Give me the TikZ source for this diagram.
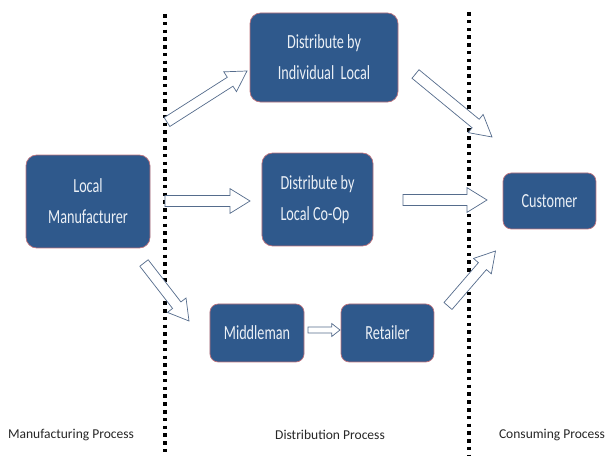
\documentclass[tikz,border=0pt]{standalone}
\usepackage{fontspec}
\setmainfont{Carlito}
\newfontfamily\boxfont[FakeStretch=0.71]{Carlito}
\usetikzlibrary{calc}

\definecolor{boxblue}{RGB}{47,89,140}
\definecolor{boxedge}{RGB}{190,115,125}
\definecolor{arrowedge}{RGB}{85,108,140}
\definecolor{boxtext}{RGB}{235,240,246}

\tikzset{
  procbox/.style={draw=boxedge, line width=0.6pt, fill=boxblue, rounded corners=9pt,
    text=boxtext, font=\boxfont\fontsize{17}{26.5}\selectfont, align=center, inner sep=0pt},
  sepline/.style={line width=3pt, dash pattern=on 3pt off 3.6pt},
  barrowstyle/.style={draw=arrowedge, fill=white, line width=0.6pt, line join=miter},
  phase/.style={font=\fontsize{11.5}{14}\selectfont, text=black!85}
}

% tail, tip, shaft half width, head half width, head length
\newcommand\blockarrow[5]{%
  \coordinate (hb) at ($(#2)!#5!(#1)$);
  \draw[barrowstyle] ($(#1)!#3!90:(#2)$) -- ($(hb)!#3!-90:(#1)$) -- ($(hb)!#4!-90:(#1)$)
    -- (#2) -- ($(hb)!#4!90:(#1)$) -- ($(hb)!#3!90:(#1)$) -- ($(#1)!#3!-90:(#2)$) -- cycle;
}

\begin{document}
\begin{tikzpicture}[x=0.85pt, y=-0.85pt]
\useasboundingbox (0,0) rectangle (609,456);

% separators
\coordinate (s1t) at (165,14);
\coordinate (s1b) at (165,456);
\coordinate (s2t) at (469,12);
\coordinate (s2b) at (469,456);
\draw[sepline] (s1t) -- (s1b);
\draw[sepline] (s2t) -- (s2b);

% boxes
\node[procbox, minimum width=105.4pt, minimum height=79pt] (lm) at (88,201.5) {Local\\Manufacturer};
\node[procbox, minimum width=125.8pt, minimum height=75.7pt] (ind) at (324,57.5) {Distribute by\\Individual\ \ Local};
\node[procbox, minimum width=94.4pt, minimum height=79pt, align=left] (coop) at (317.5,199.5) {Distribute by\\Local Co-Op};
\node[procbox, minimum width=80pt, minimum height=49.3pt, rounded corners=7pt] (mid) at (257,333) {Middleman};
\node[procbox, minimum width=79pt, minimum height=49.3pt, rounded corners=7pt] (ret) at (387.5,333) {Retailer};
\node[procbox, minimum width=79pt, minimum height=47.6pt, rounded corners=7pt] (cust) at (549.5,201) {Customer};

% arrow ends
\coordinate (a1t) at (167,122);   \coordinate (a1h) at (247,71);
\coordinate (a2t) at (165,201);   \coordinate (a2h) at (250,201);
\coordinate (a3t) at (144,263);   \coordinate (a3h) at (189,321);
\coordinate (a4t) at (415.5,74);  \coordinate (a4h) at (492,137);
\coordinate (a5t) at (403,200);   \coordinate (a5h) at (487,200);
\coordinate (a6t) at (448,306);   \coordinate (a6h) at (495.5,251);
\coordinate (a7t) at (308,330);   \coordinate (a7h) at (340,330);

\blockarrow{a1t}{a1h}{4.5pt}{10pt}{17pt}
\blockarrow{a2t}{a2h}{4.7pt}{10.5pt}{17pt}
\blockarrow{a3t}{a3h}{4.5pt}{10pt}{17pt}
\blockarrow{a4t}{a4h}{4.7pt}{10pt}{18pt}
\blockarrow{a5t}{a5h}{4.7pt}{10.5pt}{17pt}
\blockarrow{a6t}{a6h}{4.5pt}{10pt}{17pt}
\blockarrow{a7t}{a7h}{2.6pt}{5.5pt}{7pt}

% phase labels
\node[phase] (p1) at (71,435) {Manufacturing Process};
\node[phase] (p2) at (330,435) {Distribution Process};
\node[phase] (p3) at (552,435) {Consuming Process};
\end{tikzpicture}
\end{document}
